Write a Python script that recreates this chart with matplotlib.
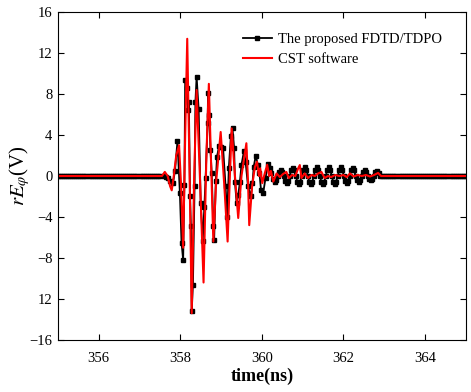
import numpy as np
import matplotlib
matplotlib.use("Agg")
import matplotlib.pyplot as plt

plt.rcParams["font.family"] = "Liberation Serif"
plt.rcParams["mathtext.fontset"] = "stix"

# FDTD/TDPO samples (ns, V) - flat before and after the pulse
t_fdtd_pre = np.arange(355.0, 357.5, 0.05)
v_fdtd_pre = np.zeros(len(t_fdtd_pre))

t_fdtd_burst = [357.50, 357.60, 357.65, 357.70, 357.75, 357.82, 357.87, 357.93, 357.99, 358.03,
                358.07, 358.10, 358.12, 358.16, 358.19, 358.21, 358.24, 358.26, 358.28, 358.31,
                358.35, 358.37, 358.40, 358.45, 358.50, 358.55, 358.59, 358.62, 358.67, 358.68,
                358.71, 358.74, 358.77, 358.81, 358.83, 358.87, 358.90, 358.95, 359.01, 359.05,
                359.11, 359.15, 359.19, 359.24, 359.28, 359.32, 359.34, 359.38, 359.42, 359.46,
                359.50, 359.56, 359.60, 359.66, 359.73, 359.77, 359.80, 359.85, 359.90, 359.94,
                359.98, 360.03, 360.09]
v_fdtd_burst = [0.0, 0.0, -0.1, -0.2, -0.5, -0.7, 0.5, 3.4, -1.7, -6.5,
                -8.2, -0.9, 9.4, 8.6, 6.4, 7.2, -2.0, -4.9, -13.2, -10.6,
                -1.0, 7.2, 9.7, 6.5, -2.6, -6.3, -3.0, -0.2, 5.2, 8.1,
                6.0, 2.5, 0.3, -4.9, -6.2, -0.5, 1.9, 2.9, 2.8, 2.7,
                -1.0, -4.0, 0.8, 3.9, 4.65, 2.7, -0.6, -2.6, -1.9, -0.6,
                1.1, 2.4, 1.4, -1.0, -2.0, -0.7, 0.9, 2.0, 1.1, 0.3,
                -1.4, -1.7, -0.2]

t_fdtd_tail = [360.15, 360.19, 360.23, 360.27, 360.31, 360.35, 360.39, 360.43, 360.47, 360.50,
               360.54, 360.57, 360.61, 360.65, 360.68, 360.72, 360.76, 360.79, 360.83, 360.87,
               360.91, 360.94, 360.98, 361.01, 361.05, 361.09, 361.13, 361.16, 361.20, 361.24,
               361.27, 361.31, 361.35, 361.38, 361.42, 361.46, 361.50, 361.53, 361.57, 361.60,
               361.64, 361.68, 361.71, 361.75, 361.79, 361.82, 361.86, 361.90, 361.94, 361.97,
               362.01, 362.05, 362.08, 362.12, 362.15, 362.19, 362.23, 362.26, 362.30, 362.34,
               362.38, 362.41, 362.45, 362.49, 362.52, 362.56, 362.60, 362.63, 362.67, 362.71,
               362.75, 362.78, 362.82, 362.86, 362.90, 362.95]
v_fdtd_tail = [1.2, 0.8, 0.3, -0.3, -0.6, -0.4, 0.0, 0.4, 0.6, 0.4,
               0.0, -0.5, -0.7, -0.5, 0.0, 0.55, 0.8, 0.55, 0.0, -0.55,
               -0.8, -0.55, 0.0, 0.6, 0.9, 0.6, 0.0, -0.55, -0.8, -0.55,
               0.0, 0.6, 0.9, 0.6, 0.0, -0.55, -0.8, -0.55, 0.0, 0.6,
               0.9, 0.6, 0.0, -0.55, -0.8, -0.55, 0.0, 0.6, 0.9, 0.6,
               0.0, -0.5, -0.7, -0.5, 0.0, 0.55, 0.8, 0.55, 0.0, -0.4,
               -0.6, -0.4, 0.0, 0.4, 0.6, 0.4, 0.0, -0.3, -0.4, -0.3,
               0.0, 0.35, 0.5, 0.3, 0.0, 0.0]

t_fdtd_post = np.arange(363.0, 365.05, 0.05)
v_fdtd_post = np.zeros(len(t_fdtd_post))

# CST samples (ns, V)
t_cst = [355.0, 357.55, 357.62, 357.69, 357.75, 357.79, 357.84, 357.90, 357.97, 358.02,
         358.07, 358.12, 358.17, 358.22, 358.28, 358.34, 358.40, 358.48, 358.57, 358.64,
         358.70, 358.76, 358.81, 358.88, 358.99, 359.08, 359.16, 359.22, 359.26, 359.34,
         359.42, 359.50, 359.62, 359.66, 359.69, 359.76, 359.83, 359.88, 359.93, 359.96,
         360.01, 360.07, 360.13, 360.18, 360.22, 360.28, 360.36, 360.44, 360.52, 360.60,
         360.66, 360.74, 360.82, 360.89, 360.93, 360.97, 361.05, 361.13, 361.22, 361.30,
         361.38, 361.46, 361.54, 361.62, 361.70, 361.80, 361.90, 362.00, 362.08, 362.16,
         362.25, 362.35, 362.45, 362.55, 362.65, 362.75, 362.85, 362.92, 363.0, 365.0]
v_cst = [0.0, 0.0, 0.4, 0.0, -1.0, -1.4, 0.0, 2.0, 3.0, -1.0,
         -7.0, 4.0, 13.4, 2.0, -13.4, 0.0, 8.4, 0.0, -10.4, 2.0,
         9.0, 0.5, -6.4, -0.5, 4.3, -1.0, -6.4, 0.5, 4.65, 0.0,
         -4.1, 0.0, 3.2, -0.5, -4.8, -1.0, 0.9, 1.4, 0.0, 0.75,
         -0.7, 0.25, 1.1, 0.0, 0.5, -0.55, 0.25, -0.1, 0.2, 0.4,
         -0.2, 0.1, 0.0, 0.75, 1.07, -0.2, 0.25, -0.2, 0.1, 0.0,
         0.25, 0.4, -0.2, 0.0, -0.1, 0.1, 0.0, 0.1, -0.1, 0.25,
         -0.05, 0.1, 0.0, 0.1, -0.05, 0.1, 0.3, 0.0, 0.0, 0.0]

y_ticks = [16, 12, 8, 4, 0, -4, -8, -12, -16]
y_tick_labels = ["16", "12", "8", "4", "0", "\u22124", "\u22128", "12", "\u221216"]
x_ticks = [356, 358, 360, 362, 364]

t_black = np.concatenate([t_fdtd_pre, t_fdtd_burst, t_fdtd_tail, t_fdtd_post])
v_black = np.concatenate([v_fdtd_pre, v_fdtd_burst, v_fdtd_tail, v_fdtd_post])

fig = plt.figure(figsize=(4.71, 3.92), dpi=100)
ax = fig.add_axes([0.123, 0.133, 0.866, 0.836])

ax.plot(t_black, v_black, color="black", lw=1.3, marker="s", ms=2.8,
        label="The proposed FDTD/TDPO")
ax.plot(t_cst, v_cst, color="red", lw=1.5, label="CST software")

ax.set_xlim(355, 365)
ax.set_ylim(-16, 16)
ax.set_xticks(x_ticks)
ax.set_yticks(y_ticks)
ax.set_yticklabels(y_tick_labels)
ax.tick_params(direction="in", top=True, right=True, length=4, labelsize=10.5)
ax.tick_params(axis="x", pad=9)
ax.tick_params(axis="y", pad=4)
ax.set_xlabel("time(ns)", fontsize=13, fontweight="bold", labelpad=2)
ax.set_ylabel(r"$rE_{\varphi}$(V)", fontsize=15, labelpad=-2)

leg = ax.legend(loc="upper right", bbox_to_anchor=(0.955, 0.955), borderaxespad=0,
                frameon=False, fontsize=10.5, handlelength=2.0,
                handletextpad=0.4, labelspacing=0.45)

fig.savefig("out.png", dpi=100)
